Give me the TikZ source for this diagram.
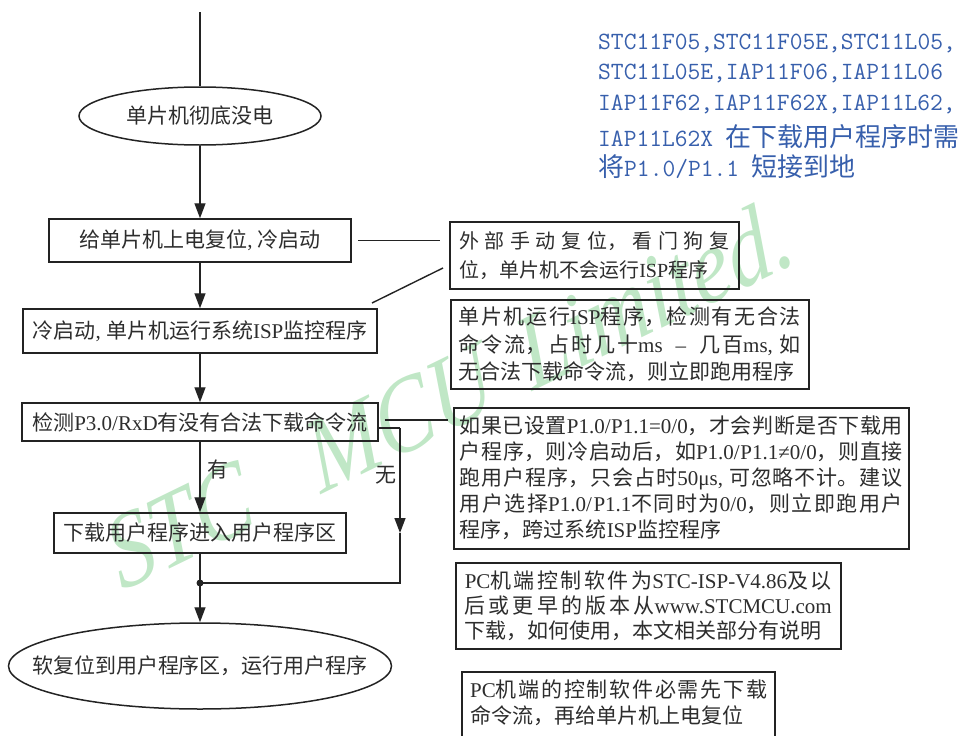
\documentclass[tikz,border=0pt]{standalone}
\usepackage{fontspec}
\setmainfont{Noto Sans CJK SC}
\newfontfamily\lat{Liberation Serif}
\newfontfamily\wmfont[FakeStretch=0.85,FakeSlant=0.12]{Liberation Serif Italic}
\usetikzlibrary{shapes.geometric,arrows.meta,calc}
\XeTeXlinebreaklocale "zh"
\XeTeXlinebreakskip=0pt plus 4pt
\setlength{\parindent}{0pt}
\tolerance=10000
\hbadness=10000
\definecolor{ink}{RGB}{35,35,35}
\definecolor{txt}{RGB}{45,45,45}
\definecolor{bluet}{RGB}{55,95,172}
\definecolor{wm}{RGB}{192,231,198}
\newcommand\lt[1]{{\lat #1}}
\newcommand\bl[1]{{\ttfamily\fontsize{24.8}{31}\selectfont #1}}
\tikzset{
  flowbox/.style={draw=ink, line width=1.5pt, rectangle, inner sep=0pt, text=txt,
    font=\fontsize{21}{26}\selectfont},
  flowell/.style={draw=ink, line width=1.5pt, ellipse, inner sep=0pt, text=txt,
    font=\fontsize{21}{26}\selectfont},
  notebox/.style={draw=ink, line width=1.5pt, rectangle, align=justify, text=txt,
    anchor=north west, inner ysep=0pt},
  notetext/.style={rectangle, align=justify, text=txt, anchor=north west, inner sep=0pt},
  conn/.style={draw=ink, line width=1.4pt},
  arr/.style={conn, -{Triangle[length=15pt,width=11pt]}},
  lbl/.style={text=txt, font=\fontsize{21}{26}\selectfont},
  bluetext/.style={text=bluet, anchor=west, inner sep=0pt, font=\fontsize{26}{31}\selectfont},
}
\begin{document}
\begin{tikzpicture}[x=1pt,y=-1pt]
\useasboundingbox (0,0) rectangle (972,736);
% watermark
\node[rotate=26, anchor=base west, inner sep=0pt, text=wm,
  font=\wmfont\fontsize{105}{105}\selectfont] (wmk) at (122,592)
  {STC\hspace{0.65em}MCU\hspace{0.35em}Limited.};

% main flow
\coordinate (top) at (200,12);
\node[flowell, minimum width=242pt, minimum height=58pt] (e1) at (200,116) {单片机彻底没电};
\node[flowbox, minimum width=302pt, minimum height=43pt] (b1) at (200,240.5) {给单片机上电复位\lt{, }冷启动};
\node[flowbox, minimum width=354pt, minimum height=44pt] (b2) at (200,331) {冷启动\lt{, }单片机运行系统\lt{ISP}监控程序};
\node[flowbox, minimum width=356pt, minimum height=38pt] (b3) at (200,422) {检测\lt{P3.0/RxD}有没有合法下载命令流};
\node[flowbox, minimum width=292pt, minimum height=40pt] (b4) at (200,533) {下载用户程序进入用户程序区};
\node[flowell, inner xsep=-34pt, minimum width=383pt, minimum height=86pt] (e2) at (200,666) {软复位到用户程序区，运行用户程序};

\coordinate (j) at (200,583);
\draw[conn] (top) -- (e1.north);
\draw[arr] (e1.south) -- (b1.north);
\draw[arr] (b1.south) -- (b2.north);
\draw[arr] (b2.south) -- (b3.north);
\draw[arr] (b3.south) -- node[lbl, right, pos=0.39, inner sep=7pt] (yes) {有} (b4.north);
\draw[conn] (b4.south) -- (j);
\draw[arr] (j) -- (e2.north);
\fill[ink] (j) circle (3.5pt);

\coordinate (n0) at ($(b3.east)+(0,6)$);
\coordinate (n1) at (400,428);
\coordinate (n2) at (400,533);
\coordinate (n3) at (400,583);
\draw[conn] (n0) -- (n1);
\draw[arr] (n1) -- node[lbl, left, pos=0.45, inner sep=3pt] (no) {无} (n2);
\draw[conn] (n2) -- (n3) -- (j);

% notes
\node[notebox, inner xsep=9.5pt, text width=270pt, minimum height=67pt,
  font=\fontsize{20}{29}\selectfont] (nA) at (449,221)
  {外部手动复位，看门狗复\linebreak 位，单片机不会运行\lt{ISP}程序};
\node[notebox, inner xsep=8pt, text width=342pt, minimum height=89pt,
  font=\fontsize{21}{27.5}\selectfont] (nB) at (450,299)
  {单片机运行\lt{ISP}程序，检测有无合法\linebreak 命令流，占时几十\lt{ms \ – \ }几百\lt{ms, }如\linebreak 无合法下载命令流，则立即跑用程序};
\node[notebox, inner xsep=6pt, text width=443pt, minimum height=141pt,
  font=\fontsize{21}{26}\selectfont] (nC) at (453,407)
  {如果已设置\lt{P1.0/P1.1=0/0}，才会判断是否下载用\linebreak 户程序，则冷启动后，如\lt{P1.0/P1.1≠0/0}，则直接\linebreak 跑用户程序，只会占时\lt{50μs, }可忽略不计。建议\linebreak 用户选择\lt{P1.0/P1.1}不同时为\lt{0/0}，则立即跑用户\linebreak 程序，跨过系统\lt{ISP}监控程序};
\node[notebox, inner xsep=9pt, text width=367pt, minimum height=86pt,
  font=\fontsize{21}{25}\selectfont] (nD) at (455,562)
  {\lt{PC}机端控制软件为\lt{STC-ISP-V4.86}及以\linebreak 后或更早的版本从\lt{www.STCMCU.com}\linebreak 下载，如何使用，本文相关部分有说明};
\draw[draw=ink, line width=1.5pt] (462,672) rectangle (775,760);
\node[notetext, text width=297pt, font=\fontsize{21}{26}\selectfont] (nE) at (470,680)
  {\lt{PC}机端的控制软件必需先下载\linebreak 命令流，再给单片机上电复位};

% pointer lines
\draw[conn, shorten <=6pt, shorten >=9pt] (b1.east) -- (b1.east -| nA.west);
\coordinate (d1) at (372,303);
\coordinate (d2) at (443,268);
\draw[conn] (d1) -- (d2);
\coordinate (c0) at ($(b3.east)+(0,-2)$);
\draw[conn, shorten <=6pt, shorten >=5pt] (c0) -- (c0 -| nC.west);

% blue text
\node[bluetext] (t1) at (598,43) {\bl{STC11F05,STC11F05E,STC11L05,}};
\node[bluetext] (t2) at (598,73) {\bl{STC11L05E,IAP11F06,IAP11L06}};
\node[bluetext] (t3) at (598,104) {\bl{IAP11F62,IAP11F62X,IAP11L62,}};
\node[bluetext] (t4) at (598,137) {\bl{IAP11L62X }在下载用户程序时需};
\node[bluetext] (t5) at (598,167) {将\bl{P1.0/P1.1 }短接到地};
\end{tikzpicture}
\end{document}
